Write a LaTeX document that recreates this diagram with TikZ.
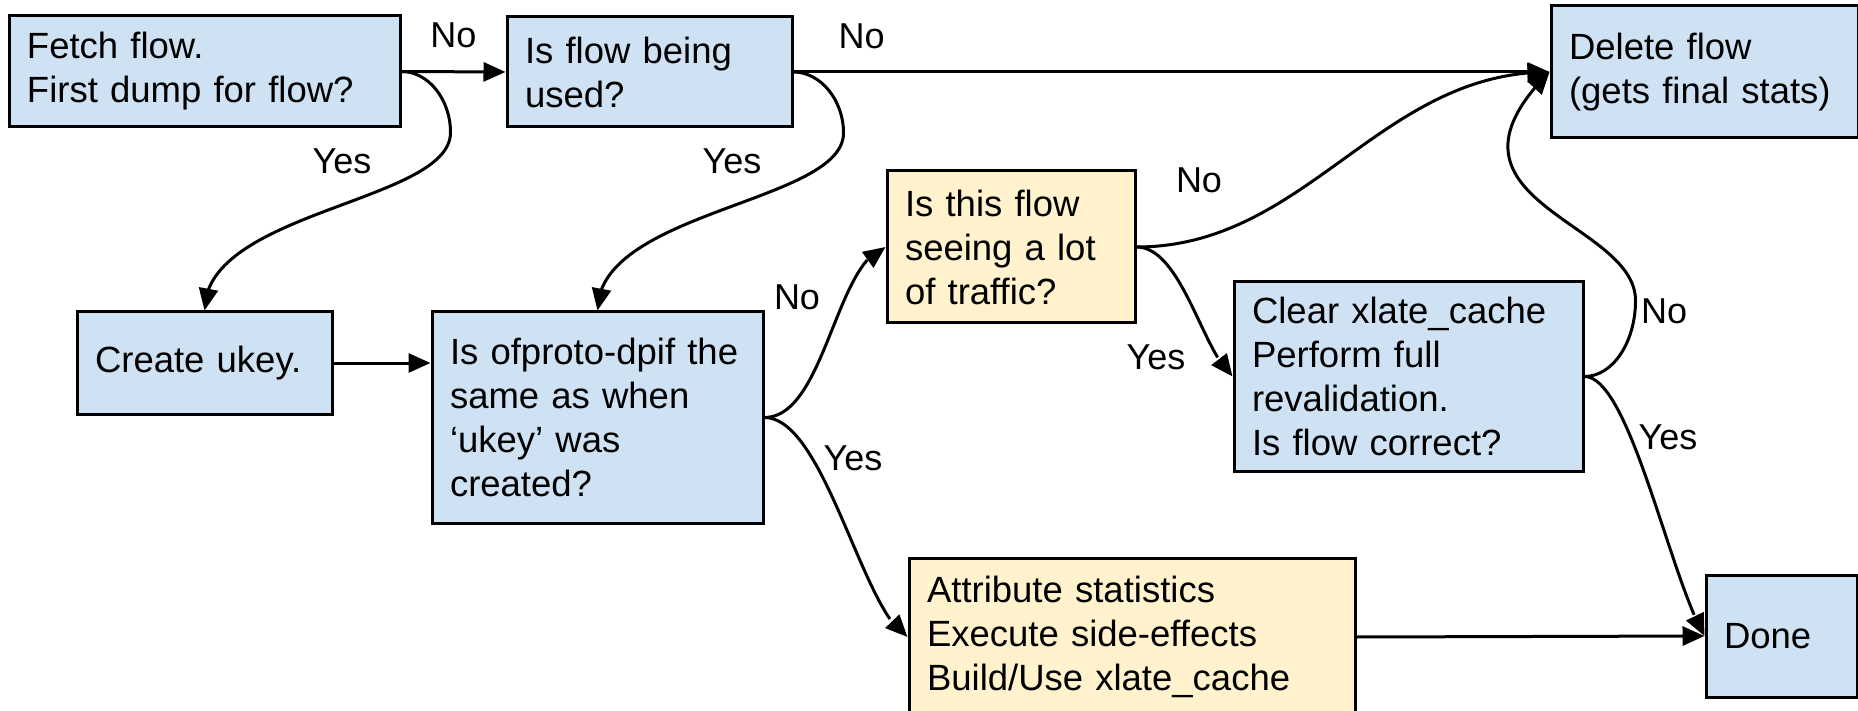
\documentclass[tikz,border=0pt]{standalone}
\usepackage{fontspec}
\setmainfont{Liberation Sans}
\usepackage{tikz}
\usetikzlibrary{arrows.meta, bending, calc}

\definecolor{boxblue}{HTML}{CFE2F3}
\definecolor{boxyellow}{HTML}{FFF2CC}

\begin{document}
\begin{tikzpicture}[
    x=1pt, y=-1pt,
    % Boxes of the flow chart
    box/.style={draw=black, line width=3pt, fill=boxblue, align=left,
                inner xsep=18pt, inner ysep=0pt,
                font=\fontsize{36.5}{44}\selectfont},
    hot/.style={box, fill=boxyellow},
    % Yes / No labels
    lbl/.style={font=\fontsize{36}{40}\selectfont, inner sep=3pt},
    % Standard arrow
    arrow/.style={-{Triangle[length=22pt, width=19pt]}, line width=3pt}
]

\useasboundingbox (0,0) rectangle (1858,711);

% === NODES ===

% Top row
\node[box, text width=355pt, minimum height=111pt] (fetch) at (204.5,71.5)
    {Fetch flow.\\First dump for flow?};
\node[box, text width=249pt, minimum height=110pt] (used) at (649.5,72)
    {Is flow being\\used?};
\node[box, text width=271pt, minimum height=132pt] (delete) at (1704.5,72)
    {Delete flow\\(gets final stats)};

% Middle row
\node[box, text width=219pt, minimum height=102pt] (ukey) at (204.5,363)
    {Create ukey.};
\node[box, text width=295pt, minimum height=211pt] (same) at (597.5,417.5)
    {Is ofproto-dpif the\\same as when\\‘ukey’ was\\created?};
\node[hot, text width=212pt, minimum height=152pt] (traffic) at (1011,247)
    {Is this flow\\seeing a lot\\of traffic?};
\node[box, text width=313pt, minimum height=189pt] (reval) at (1408.5,376.5)
    {Clear xlate\_cache\\Perform full\\revalidation.\\Is flow correct?};

% Bottom row
\node[hot, text width=410pt, minimum height=158pt] (stats) at (1132,637)
    {Attribute statistics\\Execute side-effects\\Build/Use xlate\_cache};
\node[box, text width=115pt, minimum height=122pt] (done) at (1781.5,636)
    {Done};

% === STRAIGHT ARROWS ===

% fetch -> used
\draw[arrow] (fetch.east) -- node[lbl, above=19pt] (noUsed) {No} (used.west);

% used -> delete
\draw[arrow] (used.east) -- node[lbl, pos=0.09, above=19pt] (noDel) {No} (delete.west);

% ukey -> same
\draw[arrow] (ukey.east) -- (ukey.east -| same.west);

% stats -> done
\draw[arrow] (stats.east) -- (done.west);

% === CURVED ARROWS ===

% fetch -> ukey (Yes)
\draw[arrow] (fetch.east) .. controls +(27,0) and +(0,-33) .. ($(fetch.east)+(49,61)$)
    .. controls +(0,70) and +(0,-100) .. (ukey.north);
\node[lbl] (yesUkey) at (342,161) {Yes};

% used -> same (Yes)
\draw[arrow] (used.east) .. controls +(27,0) and +(0,-33) .. ($(used.east)+(50,61)$)
    .. controls +(0,70) and +(0,-100) .. (same.north);
\node[lbl] (yesSame) at (732,161) {Yes};

% same -> traffic (No)
\draw[arrow] (same.east) .. controls +(60,0) and +(-50,15) .. (traffic.west);
\node[lbl] (noTraffic) at (797,297) {No};

% same -> stats (Yes)
\draw[arrow] (same.east) .. controls +(60,0) and +(-45,-25) .. (stats.west);
\node[lbl] (yesStats) at (853,458) {Yes};

% traffic -> delete (No)
\draw[arrow] (traffic.east) .. controls +(170,0) and +(-170,0) .. (delete.west);
\node[lbl] (noDelete) at (1199,180) {No};

% traffic -> reval (Yes)
\draw[arrow] (traffic.east) .. controls +(45,0) and +(-30,-25) .. (reval.west);
\node[lbl] (yesReval) at (1156,357) {Yes};

% reval -> delete (No)
\draw[arrow] (reval.east) .. controls +(28,0) and +(0,42) .. ($(reval.east)+(51,-76)$)
    .. controls +(0,-80) and +(-130,130) .. (delete.west);
\node[lbl] (noReval) at (1664,311) {No};

% reval -> done (Yes)
\draw[arrow] (reval.east) .. controls +(45,0) and +(-35,-60) .. (done.west);
\node[lbl] (yesDone) at (1668,437) {Yes};

\end{tikzpicture}
\end{document}
